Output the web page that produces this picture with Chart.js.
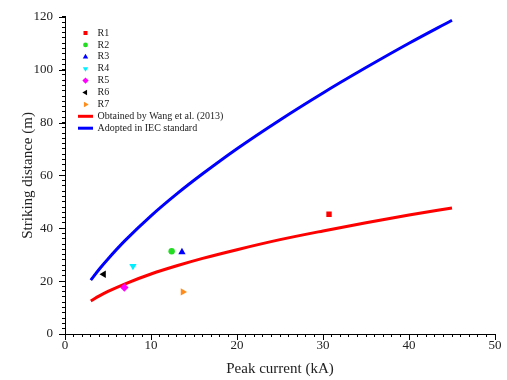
<!DOCTYPE html>
<html>
<head>
<meta charset="utf-8">
<script src="https://cdn.jsdelivr.net/npm/chart.js@4.4.1/dist/chart.umd.min.js"></script>
<style>
  html, body { margin: 0; padding: 0; background: #fff; }
  #wrap { width: 507px; height: 380px; }
</style>
</head>
<body>
<div id="wrap"><canvas id="strikeChart"></canvas></div>
<script>
// measured points (peak current kA, striking distance m)
const pointLabels = ['R1', 'R2', 'R3', 'R4', 'R5', 'R6', 'R7'];
const pointCurrent = [30.7, 12.4, 13.6, 7.9, 6.9, 4.5, 13.7];
const pointDistance = [45.3, 31.3, 31.0, 25.7, 17.6, 22.6, 15.9];
const pointColors = ['#ff0000', '#22dd22', '#0000ff', '#00eeff', '#ff00ff', '#000000', '#ff8c1a'];
const pointStyles = ['rect', 'circle', 'triangle', 'triangle', 'rectRot', 'triangle', 'triangle'];
const pointRotations = [0, 0, 0, 180, 0, -90, 90];

// curves
const curveCurrent = [3, 4, 5, 7, 10, 13, 16, 20, 25, 30, 35, 40, 45];
const wangDistance = [12.5, 14.4, 16.1, 19.0, 22.7, 25.8, 28.6, 31.9, 35.7, 39.0, 42.1, 45.0, 47.7];
const iecDistance = [20.4, 24.6, 28.4, 35.4, 44.7, 53.0, 60.6, 70.1, 81.0, 91.2, 100.8, 110.0, 118.7];

const serif = "'Liberation Serif', 'Times New Roman', serif";

const pointSets = pointLabels.map((lab, i) => ({
  label: lab,
  data: [{ x: pointCurrent[i], y: pointDistance[i] }],
  backgroundColor: pointColors[i],
  borderColor: pointColors[i],
  borderWidth: 0,
  pointStyle: pointStyles[i],
  rotation: pointRotations[i],
  pointRadius: pointStyles[i] === 'circle' ? 3.2 : (pointStyles[i] === 'rect' ? 3.8 : 4.2),
  showLine: false
}));

const curveSet = (label, ys, color) => ({
  label: label,
  data: curveCurrent.map((x, i) => ({ x: x, y: ys[i] })),
  borderColor: color,
  backgroundColor: color,
  borderWidth: 3,
  pointRadius: 0,
  showLine: true,
  cubicInterpolationMode: 'monotone'
});

// legend drawn inside the plot, top left
const insideLegend = {
  id: 'insideLegend',
  afterDatasetsDraw(chart, args, opts) {
    const ctx = chart.ctx;
    ctx.save();
    ctx.font = opts.font;
    ctx.textBaseline = 'middle';
    chart.data.datasets.forEach((ds, i) => {
      const y = opts.top + i * opts.rowHeight;
      if (ds.showLine) {
        ctx.strokeStyle = ds.borderColor;
        ctx.lineWidth = 3;
        ctx.beginPath();
        ctx.moveTo(opts.markerX - 7.5, y);
        ctx.lineTo(opts.markerX + 7.5, y);
        ctx.stroke();
      } else {
        ctx.fillStyle = ds.backgroundColor;
        Chart.helpers.drawPoint(ctx, {
          pointStyle: ds.pointStyle,
          rotation: ds.rotation,
          radius: ds.pointRadius * 0.75,
          borderWidth: 0
        }, opts.markerX, y);
      }
      ctx.fillStyle = '#222';
      ctx.fillText(ds.label, opts.textX, y);
    });
    ctx.restore();
  }
};

// longer ticks at the labelled values
const majorTicks = {
  id: 'majorTicks',
  afterDraw(chart) {
    const { ctx, chartArea, scales } = chart;
    ctx.save();
    ctx.strokeStyle = '#000';
    ctx.lineWidth = 1;
    ctx.beginPath();
    scales.x.ticks.forEach(t => {
      if (t.value % 10 === 0) {
        const px = Math.round(scales.x.getPixelForValue(t.value)) + 0.5;
        ctx.moveTo(px, chartArea.bottom);
        ctx.lineTo(px, chartArea.bottom + 6);
      }
    });
    scales.y.ticks.forEach(t => {
      if (t.value % 20 === 0) {
        const py = Math.round(scales.y.getPixelForValue(t.value)) + 0.5;
        ctx.moveTo(chartArea.left - 6, py);
        ctx.lineTo(chartArea.left, py);
      }
    });
    ctx.stroke();
    ctx.restore();
  }
};

const config = {
  type: 'scatter',
  data: {
    datasets: pointSets.concat([
      curveSet('Obtained by Wang et al. (2013)', wangDistance, '#ff0000'),
      curveSet('Adopted in IEC standard', iecDistance, '#0000ff')
    ])
  },
  options: {
    responsive: true,
    maintainAspectRatio: false,
    animation: false,
    layout: { padding: { top: 16, right: 12, left: 0, bottom: 0 } },
    plugins: {
      legend: { display: false },
      tooltip: { enabled: false },
      insideLegend: { markerX: 85.5, textX: 97.5, top: 33, rowHeight: 11.9, font: '10px ' + serif }
    },
    scales: {
      x: {
        type: 'linear',
        min: 0,
        max: 50,
        afterFit: s => { s.height = 46; },
        grid: { drawOnChartArea: false, tickLength: 3, color: '#000' },
        border: { color: '#000', width: 1 },
        ticks: {
          stepSize: 1,
          autoSkip: false,
          maxRotation: 0,
          padding: 1,
          color: '#222',
          font: { family: serif, size: 13 },
          callback: v => (v % 10 === 0 ? v : '')
        },
        title: {
          display: true,
          text: 'Peak current (kA)',
          color: '#222',
          font: { family: serif, size: 15 },
          padding: { top: 0, bottom: 2 }
        }
      },
      y: {
        type: 'linear',
        min: 0,
        max: 120,
        afterFit: s => { s.width = 65; },
        grid: { drawOnChartArea: false, tickLength: 3, color: '#000' },
        border: { color: '#000', width: 1 },
        ticks: {
          stepSize: 2,
          autoSkip: false,
          padding: 9,
          color: '#222',
          font: { family: serif, size: 13 },
          callback: v => (v % 20 === 0 ? v : '')
        },
        title: {
          display: true,
          text: 'Striking distance (m)',
          color: '#222',
          font: { family: serif, size: 15 },
          padding: { top: 19, bottom: 0 }
        }
      }
    }
  },
  plugins: [insideLegend, majorTicks]
};

const strikeCtx = document.getElementById('strikeChart');
window.strikeChart = new Chart(strikeCtx, config);
</script>
</body>
</html>
